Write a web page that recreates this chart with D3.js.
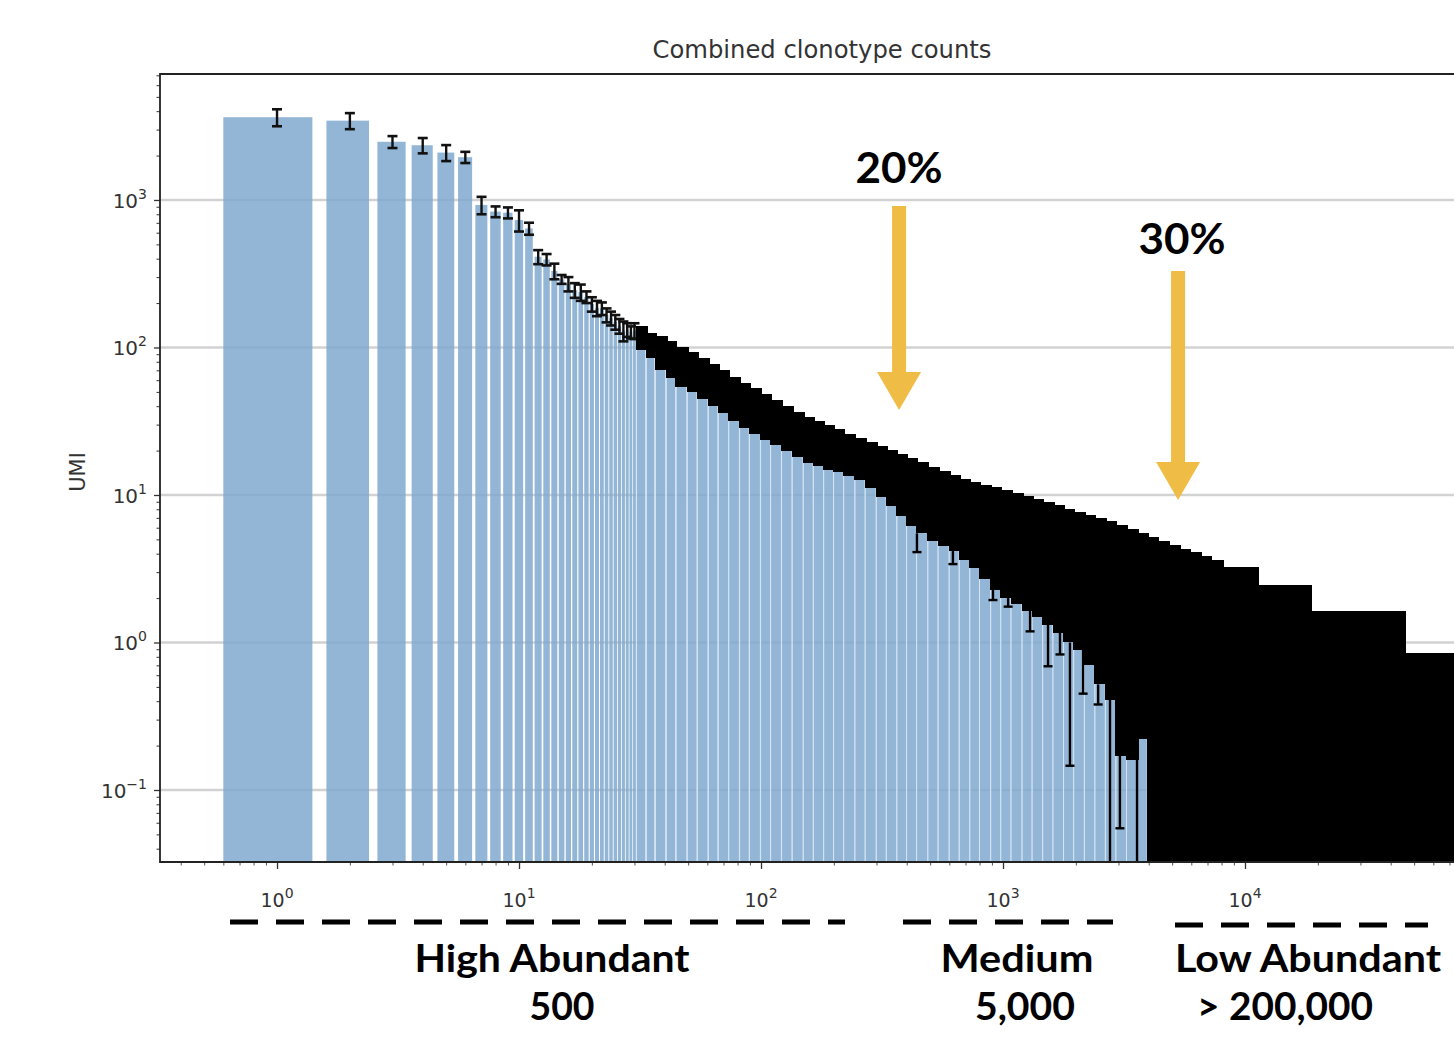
<!DOCTYPE html>
<html>
<head>
<meta charset="utf-8">
<script src="https://cdn.jsdelivr.net/npm/d3@7"></script>
<style>
  body { margin: 0; background: #fff; }
  svg { display: block; }
</style>
</head>
<body>
<svg id="chart" width="1454" height="1040"></svg>
<script>
// ---- data ----
// single clonotypes at the head of the ranking
var headRank = [1, 2, 3, 4, 5, 6, 7, 8, 9, 10, 11, 12, 13, 14, 15, 16, 17, 18, 19, 20,
                21, 22, 23, 24, 25, 26, 27, 28, 29, 30];
var headUmi  = [3640, 3450, 2480, 2350, 2095, 1950, 925, 834, 820, 731, 641, 412, 395, 330, 290, 270, 245, 237, 220, 197,
                185, 184, 166, 158, 149, 140, 130, 132, 127, 130];
var headErr  = [480, 430, 230, 280, 260, 170, 125, 70, 70, 120, 60, 45, 35, 40, 20, 30, 28, 30, 20, 22,
                22, 18, 18, 17, 17, 16, 20, 14, 12, 16];

// the dense part: groups of ranks (from..to), bar height and the spread of their error bars
var binFrom = [31, 34, 37, 41, 45, 50, 55, 61, 67, 74, 82, 90, 100, 110, 122, 135, 150, 165, 182, 200,
               220, 245, 270, 300, 330, 365, 400, 440, 490, 540, 600, 660, 730, 800, 890, 980, 1080, 1200, 1320, 1460,
               1610, 1780, 1960, 2170, 2400, 2650, 2930, 3240, 3580, 3950, 4370, 4830, 5340, 5900, 6520, 7200, 8110, 11300, 18570, 45800];
var binTo   = [33, 36, 40, 44, 49, 54, 60, 66, 73, 81, 89, 99, 109, 121, 134, 149, 164, 181, 199, 219,
               244, 269, 299, 329, 364, 399, 439, 489, 539, 599, 659, 729, 799, 889, 979, 1079, 1199, 1319, 1459, 1609,
               1779, 1959, 2169, 2399, 2649, 2929, 3239, 3579, 3949, 4369, 4829, 5339, 5899, 6519, 7199, 8109, 11299, 18569, 45799, 80000];
var binUmi  = [118, 105, 95, 86, 77, 71, 65, 58, 53, 47, 43, 39, 36, 33, 30, 27, 25, 23.7, 22.3, 21,
               19.6, 18.4, 17, 15.6, 14.3, 13.1, 12, 11.1, 10.2, 9.5, 9, 8.2, 7.7, 7.2, 6.8, 6.4, 6.1, 5.7, 5.4, 5.2,
               4.9, 4.5, 4.3, 4.0, 3.8, 3.6, 3.2, 3.0, 2.9, 2.4, 2.2, 2.1, 1.9, 1.8, 1.7, 1.6, 1.4, 1.1, 0.75, 0.4];
var binErrTop    = [140, 125, 120, 111, 101, 93, 85, 77, 70, 63, 57.5, 53, 48.5, 44, 40, 36.6, 33.9, 31.7, 29.8, 28,
               25.9, 24.3, 22.8, 21.5, 20.2, 19.0, 17.8, 16.8, 15.5, 14.6, 13.7, 12.9, 12.3, 11.7, 11.3, 10.8, 10.3, 9.8, 9.4, 9.0,
               8.55, 8.0, 7.7, 7.3, 7.0, 6.7, 6.3, 5.9, 5.5, 5.2, 4.9, 4.6, 4.3, 4.1, 3.85, 3.6, 3.25, 2.46, 1.64, 0.85];
var binErrBottom = [96, 85, 70, 62, 54, 50, 44.6, 40, 36, 31.8, 28.5, 25.9, 23.6, 21.8, 19.9, 18.1, 16.4, 15.7, 14.8, 14.3,
               13.4, 12.6, 11.1, 9.7, 8.4, 7.2, 6.2, 5.5, 4.9, 4.5, 4.2, 3.6, 3.2, 2.7, 2.27, 2.0, 1.83, 1.64, 1.48, 1.32,
               1.16, 1.0, 0.89, 0.70, 0.52, 0.41, 0.17, 0.16, 0.22, 0, 0, 0, 0, 0, 0, 0, 0, 0, 0, 0];

// single error bars that reach further down than their neighbours (0 = down to the axis)
var spikeRank = [441, 621, 909, 1050, 1294, 1535, 1720, 1891, 2143, 2473, 2768, 3042, 3580];
var spikeLow  = [4.1, 3.4, 1.94, 1.75, 1.19, 0.69, 0.83, 0.146, 0.45, 0.38, 0, 0.055, 0];

var yTickVals = [0.1, 1, 10, 100, 1000];
var xTickVals = [1, 10, 100, 1000, 10000];

var arrowLabels = ["20%", "30%"];
var arrowRank   = [372, 5290];
var arrowTipUmi = [37.7, 9.25];

var groupNames  = ["High Abundant", "Medium", "Low Abundant"];
var groupCounts = ["500", "5,000", "> 200,000"];

// ---- layout ----
var svg = d3.select("#chart");
var plotL = 160, plotR = 1484, plotT = 74, plotB = 862;
var barBlue = "#80a8cf";

var x = d3.scaleLog().domain([0.3284, 97200]).range([plotL, plotR]);
var y = d3.scaleLog().domain([0.0325, 7145]).range([plotB, plotT]);
function yc(v) { return v <= 0 ? plotB : Math.min(plotB, y(v)); }

svg.append("defs").append("clipPath").attr("id", "plotArea")
  .append("rect").attr("x", plotL).attr("y", plotT).attr("width", plotR - plotL).attr("height", plotB - plotT);

// grid
svg.append("g").selectAll("line").data(yTickVals).join("line")
  .attr("x1", plotL).attr("x2", plotR)
  .attr("y1", function(d) { return y(d); }).attr("y2", function(d) { return y(d); })
  .attr("stroke", "#d2d2d2").attr("stroke-width", 2.5);

var plot = svg.append("g").attr("clip-path", "url(#plotArea)");

// bars
plot.append("g").selectAll("rect").data(headRank).join("rect")
  .attr("x", function(r) { return x(r - 0.4); })
  .attr("width", function(r) { return x(r + 0.4) - x(r - 0.4); })
  .attr("y", function(r, i) { return y(headUmi[i]); })
  .attr("height", function(r, i) { return plotB - y(headUmi[i]); })
  .attr("fill", barBlue).attr("fill-opacity", 0.85);

plot.append("g").selectAll("rect").data(binFrom).join("rect")
  .attr("x", function(r) { return x(r - 0.4); })
  .attr("width", function(r, i) { return x(binTo[i] + 0.4) - x(r - 0.4); })
  .attr("y", function(r, i) { return y(binUmi[i]); })
  .attr("height", function(r, i) { return plotB - y(binUmi[i]); })
  .attr("fill", barBlue).attr("fill-opacity", 0.85)
  .attr("stroke", "#d6e5f4").attr("stroke-width", 1);

// error bars of the head
var eb = plot.append("g").attr("stroke", "#111");
headRank.forEach(function(r, i) {
  var cx = x(r), y0 = y(headUmi[i] + headErr[i]), y1 = y(headUmi[i] - headErr[i]);
  eb.append("line").attr("x1", cx).attr("x2", cx).attr("y1", y0).attr("y2", y1).attr("stroke-width", 2.4);
  [y0, y1].forEach(function(yy) {
    eb.append("line").attr("x1", cx - 5).attr("x2", cx + 5).attr("y1", yy).attr("y2", yy).attr("stroke-width", 2.6);
  });
});

// error bars of the dense part, merged into a band
plot.append("g").attr("shape-rendering", "crispEdges").selectAll("rect").data(binFrom).join("rect")
  .attr("x", function(r) { return Math.floor(x(r - 0.5)); })
  .attr("width", function(r, i) { return Math.ceil(x(binTo[i] + 0.5)) - Math.floor(x(r - 0.5)) + 1; })
  .attr("y", function(r, i) { return y(binErrTop[i]); })
  .attr("height", function(r, i) { return yc(binErrBottom[i]) - y(binErrTop[i]); })
  .attr("fill", "#000");

var sp = plot.append("g").attr("stroke", "#000");
spikeRank.forEach(function(r, i) {
  var k = d3.bisectRight(binFrom, r) - 1;
  var cx = x(r), yLow = yc(spikeLow[i]);
  sp.append("line").attr("x1", cx).attr("x2", cx).attr("y1", yc(binErrBottom[k])).attr("y2", yLow).attr("stroke-width", 2.4);
  if (spikeLow[i] > 0)
    sp.append("line").attr("x1", cx - 4.5).attr("x2", cx + 4.5).attr("y1", yLow).attr("y2", yLow).attr("stroke-width", 2.4);
});

// axes
function minorTicks(lo, hi, d0, d1) {
  var out = [];
  for (var d = d0; d <= d1; d++)
    for (var k = 2; k <= 9; k++) {
      var v = k * Math.pow(10, d);
      if (v > lo && v < hi) out.push(v);
    }
  return out;
}
var yMinor = minorTicks(y.domain()[0], y.domain()[1], -2, 3);
var xMinor = minorTicks(x.domain()[0], x.domain()[1], -1, 4);

svg.append("g").attr("transform", "translate(" + plotL + ",0)")
  .call(d3.axisLeft(y).tickValues(yMinor).tickSize(3.5).tickFormat(""))
  .call(function(g) { g.select(".domain").remove(); g.selectAll("line").attr("stroke", "#333"); });
svg.append("g").attr("transform", "translate(" + plotL + ",0)")
  .call(d3.axisLeft(y).tickValues(yTickVals).tickSize(6).tickFormat(""))
  .call(function(g) { g.select(".domain").remove(); g.selectAll("line").attr("stroke", "#333").attr("stroke-width", 1.3); });
svg.append("g").attr("transform", "translate(0," + plotB + ")")
  .call(d3.axisBottom(x).tickValues(xMinor).tickSize(3.5).tickFormat(""))
  .call(function(g) { g.select(".domain").remove(); g.selectAll("line").attr("stroke", "#555"); });
svg.append("g").attr("transform", "translate(0," + plotB + ")")
  .call(d3.axisBottom(x).tickValues(xTickVals).tickSize(7).tickFormat(""))
  .call(function(g) { g.select(".domain").remove(); g.selectAll("line").attr("stroke", "#333").attr("stroke-width", 1.3); });

function powLabel(sel) {
  sel.text("10").append("tspan")
    .attr("dy", -9).attr("font-size", 14)
    .text(function(d) { return String(Math.round(Math.log10(d))).replace("-", "\u2212"); });
}
svg.append("g").selectAll("text").data(yTickVals).join("text")
  .attr("x", plotL - 13).attr("y", function(d) { return y(d) + 8; })
  .attr("text-anchor", "end").attr("font-family", "DejaVu Sans, sans-serif")
  .attr("font-size", 20).attr("fill", "#333").call(powLabel);
svg.append("g").selectAll("text").data(xTickVals).join("text")
  .attr("x", function(d) { return x(d); }).attr("y", plotB + 45)
  .attr("text-anchor", "middle").attr("font-family", "DejaVu Sans, sans-serif")
  .attr("font-size", 19).attr("fill", "#333").call(powLabel);

// frame (right side runs off the picture)
svg.append("path")
  .attr("d", "M" + plotR + "," + plotT + "H" + plotL + "V" + plotB + "H" + plotR)
  .attr("fill", "none").attr("stroke", "#222").attr("stroke-width", 1.8);

svg.append("text").attr("x", (plotL + plotR) / 2).attr("y", 58)
  .attr("text-anchor", "middle").attr("font-family", "DejaVu Sans, sans-serif")
  .attr("font-size", 24).attr("textLength", 339).attr("lengthAdjust", "spacingAndGlyphs")
  .attr("fill", "#333").text("Combined clonotype counts");

svg.append("text").attr("transform", "translate(85,472) rotate(-90)")
  .attr("text-anchor", "middle").attr("font-family", "DejaVu Sans, sans-serif")
  .attr("font-size", 21).attr("fill", "#333").text("UMI");

// annotations: arrows
var gold = "#efbd45";
var arrowTop = [206, 271], labelBase = [183, 254], labelShift = [0, 4];
arrowLabels.forEach(function(lab, i) {
  var ax = x(arrowRank[i]), tip = y(arrowTipUmi[i]);
  svg.append("rect").attr("x", ax - 7).attr("y", arrowTop[i]).attr("width", 14).attr("height", tip - 36 - arrowTop[i])
    .attr("fill", gold);
  svg.append("path").attr("d", "M" + (ax - 22) + "," + (tip - 38) + "L" + (ax + 22) + "," + (tip - 38) + "L" + ax + "," + tip + "Z")
    .attr("fill", gold);
  svg.append("text").attr("x", ax + labelShift[i]).attr("y", labelBase[i]).attr("text-anchor", "middle")
    .attr("font-family", "Lato, 'Open Sans', sans-serif").attr("font-weight", 700)
    .attr("font-size", 42).attr("textLength", 87).attr("lengthAdjust", "spacingAndGlyphs")
    .attr("fill", "#000").text(lab);
});

// annotations: abundance groups under the axis
var dashX = [[230, 845], [903, 1113], [1175, 1428]], dashY = [922, 922, 925];
var nameX = [552, 1017, 1308], nameW = [275, 153, 266];
var countX = [562, 1025, 1285], countW = [65, 100, 176];
groupNames.forEach(function(name, i) {
  svg.append("line").attr("x1", dashX[i][0]).attr("x2", dashX[i][1]).attr("y1", dashY[i]).attr("y2", dashY[i])
    .attr("stroke", "#000").attr("stroke-width", 5).attr("stroke-dasharray", "28,18");
  svg.append("text").attr("x", nameX[i]).attr("y", 972).attr("text-anchor", "middle")
    .attr("font-family", "Lato, 'Open Sans', sans-serif").attr("font-weight", 700).attr("font-size", 38)
    .attr("textLength", nameW[i]).attr("lengthAdjust", "spacingAndGlyphs").attr("fill", "#000").text(name);
  svg.append("text").attr("x", countX[i]).attr("y", 1020).attr("text-anchor", "middle")
    .attr("font-family", "Lato, 'Open Sans', sans-serif").attr("font-weight", 700).attr("font-size", 38)
    .attr("textLength", countW[i]).attr("lengthAdjust", "spacingAndGlyphs").attr("fill", "#000").text(groupCounts[i]);
});
</script>
</body>
</html>
